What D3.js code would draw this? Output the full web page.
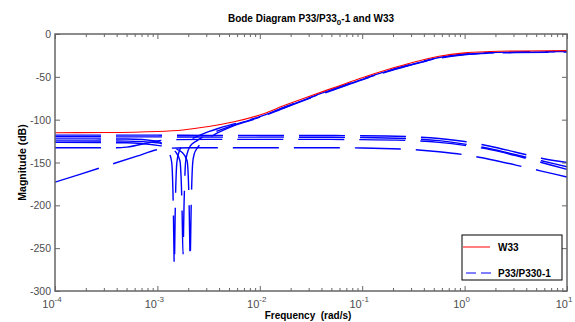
<!DOCTYPE html>
<html>
<head>
<meta charset="utf-8">
<script src="https://cdn.jsdelivr.net/npm/d3@7/dist/d3.min.js"></script>
<style>
  html, body { margin: 0; padding: 0; background: #fff; }
  svg { display: block; font-family: "Liberation Sans", Arial, sans-serif; }
</style>
</head>
<body>
<svg id="chart" width="575" height="322"></svg>
<script>
// Frequency samples are log10(rad/s), magnitudes are in dB.

// Weighting function W33
const w33LogFreq = [-4, -3.5, -3, -2.75, -2.5, -2.25, -2, -1.75, -1.5, -1.25, -1, -0.75, -0.5, -0.25, 0, 0.25, 0.5, 1];
const w33Mag     = [-115.2, -115, -113.8, -112, -108, -102.5, -94.5, -83, -72, -61.5, -51, -41.5, -33, -26, -22, -20.5, -19.8, -19.4];

// Relative model error P33/P330-1, one frequency/magnitude pair per perturbed plant
const errLogFreq = [
  [-4, -3, -2.5, -2, -1.5, -1, -0.5, -0.25, 0, 0.25, 0.5, 0.75, 1],
  [-4, -3, -2.5, -2, -1.5, -1, -0.5, -0.25, 0, 0.25, 0.5, 0.75, 1],
  [-4, -3.3, -3.0, -2.92, -2.88, -2.86, -2.845, -2.835, -2.825, -2.81, -2.79, -2.76, -2.7, -2.6, -2.5, -2.4, -2.25, -2, -1.75, -1.5, -1.25, -1, -0.75, -0.5, -0.25, 0, 0.25, 0.5, 1],
  [-4, -3.3, -3.0, -2.9, -2.82, -2.78, -2.76, -2.75, -2.74, -2.725, -2.71, -2.68, -2.62, -2.5, -2.4, -2.25, -2, -1.75, -1.5, -1.25, -1, -0.75, -0.5, -0.25, 0, 0.25, 0.5, 1],
  [-4, -3.3, -3.0, -2.85, -2.76, -2.71, -2.69, -2.68, -2.67, -2.655, -2.64, -2.61, -2.55, -2.45, -2.35, -2.25, -2, -1.75, -1.5, -1.25, -1, -0.75, -0.5, -0.25, 0, 0.25, 0.5, 1],
  [-4, -3.4, -3.3, -3.05, -2.9, -2.5, -2, -1.5, -1, -0.5, -0.25, 0, 0.25, 0.5, 0.75, 1],
  [-4, -3.5, -3.2, -3.0, -2.9, -2.8, -2.6, -2, -1.5, -1, -0.5, -0.25, 0, 0.25, 0.5, 0.75, 1]
];
const errMag = [
  [-118, -118.1, -118.3, -118.4, -118.5, -118.7, -120, -122, -125.5, -131, -138, -145, -150],
  [-120, -120.1, -120.3, -120.4, -120.5, -120.8, -122.3, -124.5, -128.5, -134, -141, -148, -155],
  [-122.4, -122.6, -125, -132, -140, -150, -200, -270, -200, -150, -138, -131, -125, -119, -114, -110, -105, -96.5, -84.8, -73.6, -63, -52.5, -43, -34.5, -27.5, -23.3, -21.7, -21, -20.4],
  [-124.7, -125, -127, -131, -138, -148, -200, -257, -200, -150, -140, -131, -125, -117, -112.5, -106, -97, -85.3, -74, -63.5, -53, -43.5, -35, -28, -23.8, -22.1, -21.4, -20.8],
  [-126.5, -127, -130, -133, -138, -148, -200, -262, -200, -150, -140, -133, -126, -118, -112, -107, -97.5, -85.8, -74.5, -64, -53.5, -44, -35.5, -28.5, -24.3, -22.5, -21.7, -21.1],
  [-132.7, -132.7, -132, -126, -123.5, -123, -123, -123, -123.3, -124.5, -126.5, -130, -135, -142, -150, -158],
  [-173, -154, -142.6, -135, -133.5, -133, -132.8, -132.7, -132.7, -133, -135, -137.5, -141, -146.5, -153, -160, -167]
];

const width = 575, height = 322;
const x0 = 55, x1 = 567;
const y0 = 34, y1 = 291;

const svg = d3.select("#chart");

const x = d3.scaleLinear().domain([-4, 1]).range([x0, x1]);
const y = d3.scaleLinear().domain([-300, 0]).range([y1, y0]);

const line = d3.line()
  .x(d => x(d[0]))
  .y(d => y(d[1]))
  .curve(d3.curveMonotoneX);

svg.append("clipPath").attr("id", "plotClip")
  .append("rect").attr("x", x0).attr("y", y0).attr("width", x1 - x0).attr("height", y1 - y0);

const plot = svg.append("g").attr("clip-path", "url(#plotClip)");

// error curves (dashed, blue)
errLogFreq.forEach((fs, i) => {
  const pts = fs.map((f, j) => [f, errMag[i][j]]);
  plot.append("path")
    .attr("d", line(pts))
    .attr("fill", "none")
    .attr("stroke", "#0000ff")
    .attr("stroke-width", 1.4)
    .attr("stroke-dasharray", "46,15");
});

// weighting function (solid, red)
plot.append("path")
  .attr("d", line(w33LogFreq.map((f, j) => [f, w33Mag[j]])))
  .attr("fill", "none")
  .attr("stroke", "#ff0000")
  .attr("stroke-width", 1.1);

// axes box with inward ticks on all four sides
const axisColor = "#666666";
const frame = svg.append("g");

const decades = d3.range(-4, 2);
const minor = [];
decades.slice(0, -1).forEach(d => { for (let k = 2; k <= 9; k++) minor.push(d + Math.log10(k)); });

const yTickVals = d3.range(-300, 1, 50);
const axes = [
  [d3.axisBottom(x).tickValues(decades).tickSize(-5), `translate(0,${y1})`],
  [d3.axisBottom(x).tickValues(minor).tickSize(-3), `translate(0,${y1})`],
  [d3.axisTop(x).tickValues(decades).tickSize(-5), `translate(0,${y0})`],
  [d3.axisTop(x).tickValues(minor).tickSize(-3), `translate(0,${y0})`],
  [d3.axisLeft(y).tickValues(yTickVals).tickSize(-5), `translate(${x0},0)`],
  [d3.axisRight(y).tickValues(yTickVals).tickSize(-5), `translate(${x1},0)`]
];
axes.forEach(([ax, tr]) => {
  const g = frame.append("g").attr("transform", tr).call(ax.tickFormat(""));
  g.select(".domain").remove();
  g.selectAll("text").remove();
  g.selectAll("line").attr("stroke", axisColor).attr("stroke-width", 1);
});

frame.append("rect")
  .attr("x", x0).attr("y", y0).attr("width", x1 - x0).attr("height", y1 - y0)
  .attr("fill", "none").attr("stroke", axisColor).attr("stroke-width", 1.5);

// tick labels
const labelColor = "#4d4d4d";
svg.append("g").selectAll("text").data(yTickVals).join("text")
  .attr("x", x0 - 4).attr("y", d => y(d) + 4)
  .attr("text-anchor", "end")
  .attr("font-size", 10.5).attr("fill", labelColor)
  .text(d => d);

const xl = svg.append("g").selectAll("text").data(decades).join("text")
  .attr("x", d => x(d) - 3).attr("y", y1 + 17)
  .attr("text-anchor", "middle")
  .attr("font-size", 11).attr("fill", labelColor);
xl.append("tspan").text("10");
xl.append("tspan").attr("dy", -6).attr("font-size", 8).text(d => d);

// title with subscript
const title = svg.append("text")
  .attr("x", (x0 + x1) / 2).attr("y", 22)
  .attr("text-anchor", "middle")
  .attr("font-size", 10).attr("font-weight", "bold").attr("fill", "#000");
title.append("tspan").text("Bode Diagram P33/P33");
title.append("tspan").attr("dy", 3).attr("font-size", 8).text("0");
title.append("tspan").attr("dy", -3).text("-1 and W33");

// axis titles
svg.append("text")
  .attr("transform", `translate(26,${(y0 + y1) / 2}) rotate(-90)`)
  .attr("text-anchor", "middle")
  .attr("font-size", 10.5).attr("font-weight", "bold").attr("fill", "#000")
  .text("Magnitude (dB)");

svg.append("text")
  .attr("x", (x0 + x1) / 2 - 3).attr("y", 319)
  .attr("text-anchor", "middle")
  .attr("font-size", 10).attr("font-weight", "bold").attr("fill", "#000")
  .attr("xml:space", "preserve")
  .text("Frequency  (rad/s)");

// legend
const lg = svg.append("g");
const lx = 462, ly = 235, lw = 100, lh = 45;
lg.append("rect").attr("x", lx).attr("y", ly).attr("width", lw).attr("height", lh)
  .attr("fill", "#fff").attr("stroke", "#000").attr("stroke-width", 1);
lg.append("line").attr("x1", lx + 1).attr("x2", lx + 28).attr("y1", ly + 12).attr("y2", ly + 12)
  .attr("stroke", "#ff0000").attr("stroke-width", 1);
lg.append("line").attr("x1", lx + 4).attr("x2", lx + 32).attr("y1", ly + 38).attr("y2", ly + 38)
  .attr("stroke", "#0000ff").attr("stroke-width", 1).attr("stroke-dasharray", "10,5");
lg.append("text").attr("x", lx + 36).attr("y", ly + 15.5)
  .attr("font-size", 10).attr("font-weight", "bold").text("W33");
lg.append("text").attr("x", lx + 36).attr("y", ly + 41.5)
  .attr("font-size", 10).attr("font-weight", "bold").text("P33/P330-1");
</script>
</body>
</html>
